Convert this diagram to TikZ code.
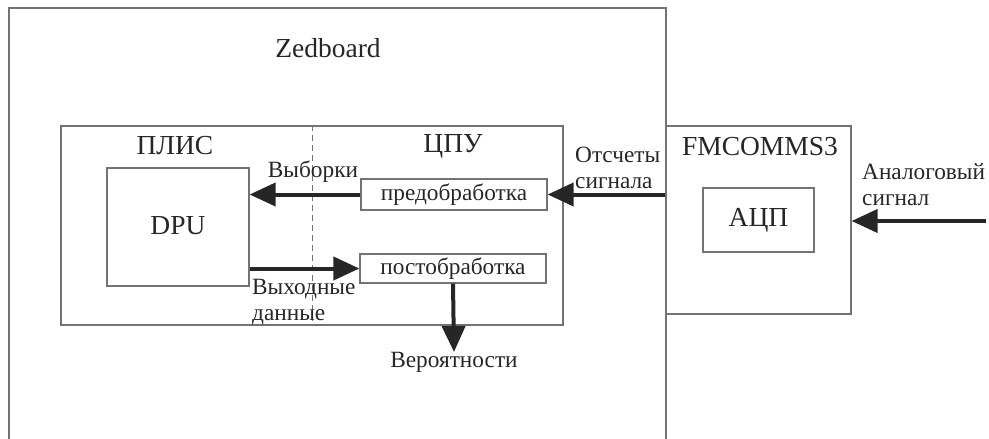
\documentclass[tikz,border=0pt]{standalone}
\usepackage{fontspec}
\setmainfont{Liberation Serif}
\usetikzlibrary{arrows.meta}
\begin{document}
\begin{tikzpicture}[x=1pt,y=-1pt,
  box/.style={draw=black!55,line width=1.2pt,inner sep=0pt,anchor=center},
  lbl/.style={text=black!85,font=\fontsize{23.3}{26}\selectfont,inner sep=0pt},
  lblL/.style={lbl,align=left,anchor=west},
  big/.style={lbl,font=\fontsize{27.5}{30}\selectfont},
  flow/.style={draw=black!85,line width=4pt,-{Triangle[length=26pt,width=23pt]}},
  divider/.style={draw=black!55,line width=0.9pt,dash pattern=on 6pt off 4pt}]
\useasboundingbox (0,0) rectangle (989,439);
\path[clip] (0,0) rectangle (989,439);
\node[box,minimum width=657pt,minimum height=462pt] (zed) at (337.5,239) {};
\node[box,minimum width=502pt,minimum height=199pt] (inner) at (312,225.5) {};
\node[box,minimum width=142pt,minimum height=118pt] (dpu) at (178,227) {};
\node[box,minimum width=186pt,minimum height=31pt] (pre) at (454,194.5) {};
\node[box,minimum width=186pt,minimum height=29pt] (post) at (453,268.5) {};
\node[box,minimum width=185pt,minimum height=188pt] (fmc) at (758.5,220) {};
\node[box,minimum width=111pt,minimum height=64pt] (adc) at (758.5,220) {};
\draw[divider] (inner.north) -- (inner.south);
% texts
\node[big] (tzed) at (328,48) {Zedboard};
\node[big] (tplis) at (175,146) {ПЛИС};
\node[big] (tcpu) at (453,146) {ЦПУ};
\node[big] (tdpu) at (178,226) {DPU};
\node[lbl] (tpre) at (454,194.5) {предобработка};
\node[lbl] (tpost) at (453,268.5) {постобработка};
\node[big] (tfmc) at (760,147) {FMCOMMS3};
\node[big] (tadc) at (758.5,220) {АЦП};
\node[lbl] (tvyb) at (313,172) {Выборки};
\node[lblL] (tvyh) at (252,302) {Выходные\\данные};
\node[lblL] (tots) at (575,168) {Отсчеты\\сигнала};
\node[lblL] (tanal) at (862,185) {Аналоговый\\сигнал};
\node[lbl,anchor=north] (prob) at (454,352) {Вероятности};
\coordinate (src) at (986,221);
% connectors
\draw[flow] (pre.west) -- (pre.west -| dpu.east);
\draw[flow] (dpu.east |- post.west) -- (post.west);
\draw[flow] (fmc.west |- pre.east) -- (pre.east);
\draw[flow] (src) -- (src -| fmc.east);
\draw[flow] (post.south) -- (prob.north);
\end{tikzpicture}
\end{document}
